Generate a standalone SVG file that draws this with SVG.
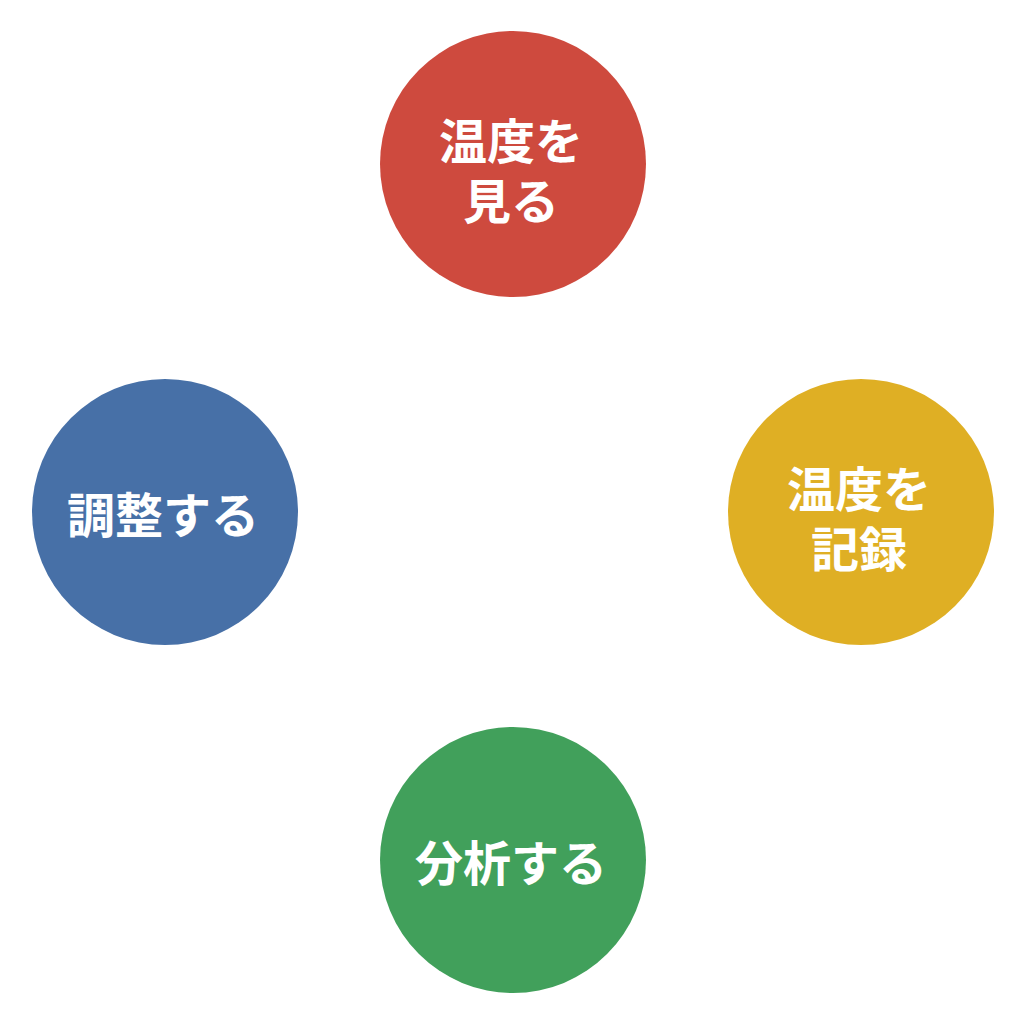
<svg xmlns="http://www.w3.org/2000/svg" width="1024" height="1024" viewBox="0 0 1024 1024">
<style>
.lbl{font-family:"Noto Sans CJK JP","Noto Sans CJK SC",sans-serif;font-size:48px;font-weight:700;fill:#ffffff;text-anchor:middle;dominant-baseline:central}
</style>
<rect x="0" y="0" width="1024" height="1024" fill="#ffffff"/>
<g id="connectors"></g>
<g id="node-see">
<circle cx="513" cy="164" r="133" fill="#CE4A3E"/>
<text class="lbl"><tspan x="511" y="138">温度を</tspan><tspan x="511" y="198">見る</tspan></text>
</g>
<g id="node-record">
<circle cx="861" cy="512" r="133" fill="#DFAF24"/>
<text class="lbl"><tspan x="859" y="486">温度を</tspan><tspan x="859" y="546">記録</tspan></text>
</g>
<g id="node-analyze">
<circle cx="513" cy="860" r="133" fill="#41A05B"/>
<text class="lbl" x="511" y="860">分析する</text>
</g>
<g id="node-adjust">
<circle cx="165" cy="512" r="133" fill="#4770A7"/>
<text class="lbl" x="163" y="512">調整する</text>
</g>
</svg>
